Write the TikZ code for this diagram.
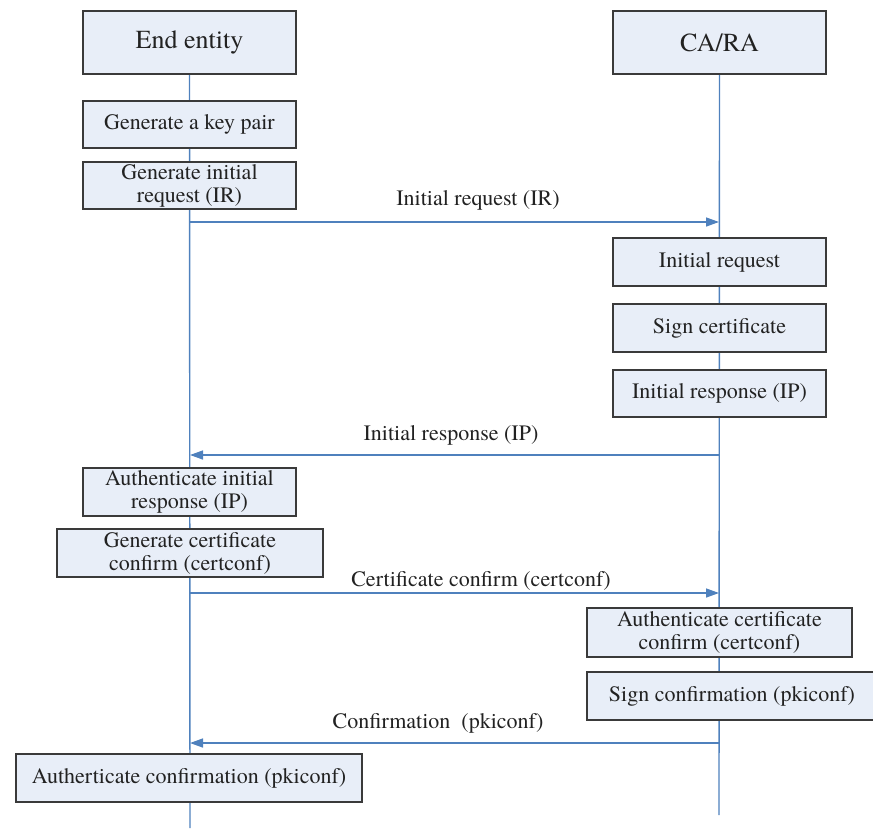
\documentclass[tikz,border=0pt]{standalone}
\usepackage{fontspec}
\setmainfont{texgyretermes-regular.otf}
\usetikzlibrary{arrows.meta,backgrounds}
\definecolor{lifeblue}{HTML}{4F81BD}
\definecolor{boxfill}{HTML}{E8EEF8}
\definecolor{boxline}{HTML}{3A3A3A}
\definecolor{txt}{HTML}{222222}
\tikzset{
  actbox/.style={draw=boxline, line width=1.6pt, fill=boxfill, text=txt, align=center,
     inner sep=0pt, font=\fontsize{22}{23}\selectfont},
  headbox/.style={actbox, font=\fontsize{26}{28}\selectfont},
  lifeline/.style={draw=lifeblue, line width=1.4pt},
  msg/.style={draw=lifeblue, line width=1.4pt, -{Triangle[length=13pt,width=9pt]}},
  msglabel/.style={text=txt, font=\fontsize{22}{23}\selectfont, inner sep=0pt}
}
\begin{document}
\begin{tikzpicture}[x=1pt,y=-1pt]
\useasboundingbox (0,0) rectangle (873,828);
% headers
\node[headbox, minimum width=213pt, minimum height=63pt] (ee) at (189.5,42.5) {End entity};
\node[headbox, minimum width=213pt, minimum height=63pt] (ca) at (719.5,42.5) {CA/RA};
% end entity actions
\node[actbox, minimum width=213pt, minimum height=47pt] (kp) at (189.5,124.5) {Generate a key pair};
\node[actbox, minimum width=213pt, minimum height=47pt] (gir) at (189.5,185.5) {Generate initial\\request (IR)};
\node[actbox, minimum width=213pt, minimum height=48pt] (aip) at (189.5,492) {Authenticate initial\\response (IP)};
\node[actbox, minimum width=266pt, minimum height=48pt] (gcc) at (190,553) {Generate certificate\\confirm (certconf)};
\node[actbox, minimum width=346pt, minimum height=48pt] (acf) at (189,778) {Autherticate confirmation (pkiconf)};
% CA/RA actions
\node[actbox, minimum width=213pt, minimum height=48pt] (irq) at (719.5,262) {Initial request};
\node[actbox, minimum width=213pt, minimum height=48pt] (sc) at (719.5,328) {Sign certificate};
\node[actbox, minimum width=213pt, minimum height=47pt] (ip) at (719.5,393.5) {Initial response (IP)};
\node[actbox, minimum width=265pt, minimum height=49pt] (acc) at (719.5,632.5) {Authenticate certificate\\confirm (certconf)};
\node[actbox, minimum width=290pt, minimum height=48pt] (scf) at (732,696) {Sign confirmation (pkiconf)};
% lifeline ends and message points
\coordinate (eeend) at (190,828);
\coordinate (caend) at (719,815);
\coordinate (l1) at (190,222); \coordinate (r1) at (719,222);
\coordinate (l2) at (190,455); \coordinate (r2) at (719,455);
\coordinate (l3) at (190,593); \coordinate (r3) at (719,593);
\coordinate (l4) at (190,743); \coordinate (r4) at (719,743);
\begin{scope}[on background layer]
\draw[lifeline] (ee.south) -- (eeend);
\draw[lifeline] (ca.south) -- (caend);
\end{scope}
% messages
\draw[msg] (l1) -- (r1);
\draw[msg] (r2) -- (l2);
\draw[msg] (l3) -- (r3);
\draw[msg] (r4) -- (l4);
\node[msglabel] (m1) at (478,200) {Initial request (IR)};
\node[msglabel] (m2) at (451,435) {Initial response (IP)};
\node[msglabel] (m3) at (481,581) {Certificate confirm (certconf)};
\node[msglabel] (m4) at (438,723) {Confirmation\ \ (pkiconf)};
\end{tikzpicture}
\end{document}
